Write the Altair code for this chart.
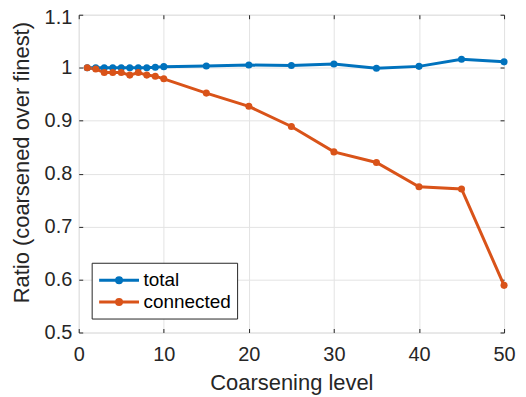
import altair as alt
import pandas as pd

levels = [1, 2, 3, 4, 5, 6, 7, 8, 9, 10, 15, 20, 25, 30, 35, 40, 45, 50]
total = [1.0, 1.0, 1.0, 1.0, 1.0, 1.0, 1.0, 1.0, 1.001, 1.002, 1.003, 1.005,
         1.004, 1.007, 0.999, 1.0025, 1.016, 1.011]
connected = [1.0, 0.9975, 0.991, 0.991, 0.991, 0.986, 0.991, 0.986, 0.984,
             0.979, 0.952, 0.927, 0.889, 0.841, 0.821, 0.775, 0.771, 0.589]
series_names = ["total", "connected"]
series_colors = ["#0072BD", "#D95319"]
x_ticks = [0, 10, 20, 30, 40, 50]
y_ticks = [0.5, 0.6, 0.7, 0.8, 0.9, 1.0, 1.1]

rows = []
for name, vals in zip(series_names, [total, connected]):
    for lv, v in zip(levels, vals):
        rows.append({"level": lv, "ratio": v, "series": name})
df = pd.DataFrame(rows)

xscale = alt.Scale(domain=[0, 50], nice=False, zero=False)
yscale = alt.Scale(domain=[0.5, 1.1], nice=False, zero=False)
cscale = alt.Scale(domain=series_names, range=series_colors)

TXT = "#262626"
FONT = "Liberation Sans"

ax_x_main = alt.Axis(values=x_ticks, grid=True, gridColor="#e3e3e3", ticks=False, tickSize=0,
                     domain=False, labelFontSize=20, labelColor=TXT, labelPadding=12,
                     title="Coarsening level", titleFontSize=22, titleFontWeight="normal",
                     titleColor=TXT, titlePadding=8, labelFlush=False)
ax_y_main = alt.Axis(values=y_ticks, grid=True, gridColor="#e3e3e3", ticks=False, tickSize=0,
                     domain=False, labelFontSize=20, labelColor=TXT, labelPadding=7,
                     labelOffset={"condition": {"test": "datum.value >= 1.09", "value": 3}, "value": 0},
                     format="~g", title="Ratio (coarsened over finest)", titleFontSize=22,
                     titleFontWeight="normal", titleColor=TXT, titlePadding=11, titleY=148,
                     labelFlush=False)

def tick_axis(orient, vals):
    return alt.Axis(orient=orient, values=vals, grid=False, labels=False, domain=False,
                    ticks=True, tickSize=4, tickColor=TXT, tickWidth=1, offset=-4, title=None)

legend_path = ("M-1,0L3,0M0.75,0A0.25,0.25,0,1,1,1.25,0"
               "A0.25,0.25,0,1,1,0.75,0Z")

base = alt.Chart(df)

lines = base.mark_line(strokeWidth=3).encode(
    x=alt.X("level:Q", scale=xscale, axis=ax_x_main),
    y=alt.Y("ratio:Q", scale=yscale, axis=ax_y_main),
    color=alt.Color("series:N", scale=cscale, sort=series_names,
                    legend=alt.Legend(
                        title=None, orient="none", legendX=13, legendY=249,
                        symbolType=legend_path, symbolSize=400, symbolStrokeWidth=3,
                        labelFontSize=19, labelColor="#000000", labelFont=FONT,
                        strokeColor="#262626", fillColor="#ffffff",
                        padding=6, rowPadding=0, labelOffset=23)),
)

points = base.mark_circle(size=50, opacity=1).encode(
    x=alt.X("level:Q", scale=xscale, axis=tick_axis("bottom", x_ticks)),
    y=alt.Y("ratio:Q", scale=yscale, axis=tick_axis("left", y_ticks)),
    color=alt.Color("series:N", scale=cscale, sort=series_names, legend=None),
)

ghost = base.mark_circle(opacity=0).encode(
    x=alt.X("level:Q", scale=xscale, axis=tick_axis("top", x_ticks)),
    y=alt.Y("ratio:Q", scale=yscale, axis=tick_axis("right", y_ticks)),
)

chart = alt.layer(lines, points, ghost).resolve_axis(
    x="independent", y="independent"
).properties(
    width=427, height=319,
    autosize=alt.AutoSizeParams(type="none"),
    padding={"left": 71, "top": 6, "right": 14, "bottom": 62},
    background="white",
).configure_view(
    stroke=TXT, strokeWidth=1
).configure(font=FONT)

chart.save("out.html", embed_options={"renderer": "svg", "actions": False})
